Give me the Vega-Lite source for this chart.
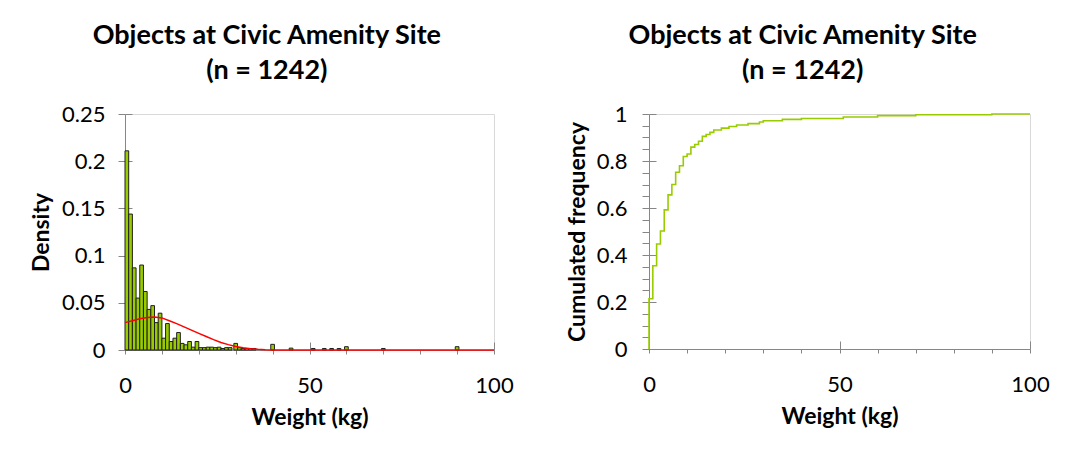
{
  "$schema": "https://vega.github.io/schema/vega-lite/v6.json",
  "background": "white",
  "padding": {"left": 30, "top": 21, "right": 10, "bottom": 5},
  "spacing": 51,
  "config": {
    "font": "Lato",
    "view": {"stroke": "#d9d9d9", "strokeWidth": 1},
    "title": {"font": "Lato", "fontSize": 27, "fontWeight": "bold", "lineHeight": 35, "anchor": "middle", "frame": "bounds", "color": "#000000", "offset": 18, "dx": -5},
    "axis": {"labelFont": "Lato", "labelFontSize": 22, "labelColor": "#000000", "labelFlush": false, "titleFont": "Lato", "titleFontSize": 23, "titleFontWeight": "bold", "titleColor": "#000000", "domainColor": "#868686", "tickColor": "#868686", "grid": false}
  },
  "datasets": {
    "hist": [
      {"start": 0, "end": 1, "density": 0.211},
      {"start": 1, "end": 2, "density": 0.144},
      {"start": 2, "end": 3, "density": 0.087},
      {"start": 3, "end": 4, "density": 0.055},
      {"start": 4, "end": 5, "density": 0.090},
      {"start": 5, "end": 6, "density": 0.062},
      {"start": 6, "end": 7, "density": 0.043},
      {"start": 7, "end": 8, "density": 0.047},
      {"start": 8, "end": 9, "density": 0.029},
      {"start": 9, "end": 10, "density": 0.039},
      {"start": 10, "end": 11, "density": 0.0125},
      {"start": 11, "end": 12, "density": 0.028},
      {"start": 12, "end": 13, "density": 0.009},
      {"start": 13, "end": 14, "density": 0.0125},
      {"start": 14, "end": 15, "density": 0.0185},
      {"start": 15, "end": 16, "density": 0.007},
      {"start": 16, "end": 17, "density": 0.0055},
      {"start": 17, "end": 18, "density": 0.009},
      {"start": 18, "end": 19, "density": 0.003},
      {"start": 19, "end": 20, "density": 0.009},
      {"start": 20, "end": 21, "density": 0.0025},
      {"start": 21, "end": 22, "density": 0.0025},
      {"start": 22, "end": 23, "density": 0.003},
      {"start": 23, "end": 24, "density": 0.003},
      {"start": 24, "end": 25, "density": 0.0025},
      {"start": 25, "end": 26, "density": 0.003},
      {"start": 26, "end": 27, "density": 0.0016},
      {"start": 27, "end": 28, "density": 0.0025},
      {"start": 28, "end": 29, "density": 0.0025},
      {"start": 29.5, "end": 30.5, "density": 0.007},
      {"start": 30.5, "end": 31.5, "density": 0.0025},
      {"start": 31.5, "end": 32.5, "density": 0.0016},
      {"start": 32.5, "end": 33.5, "density": 0.0016},
      {"start": 33.5, "end": 34.5, "density": 0.0016},
      {"start": 34.5, "end": 35.5, "density": 0.0016},
      {"start": 39.5, "end": 40.5, "density": 0.006},
      {"start": 44.5, "end": 45.5, "density": 0.002},
      {"start": 50.5, "end": 51.5, "density": 0.0016},
      {"start": 53.5, "end": 54.5, "density": 0.0016},
      {"start": 55.5, "end": 56.5, "density": 0.0016},
      {"start": 57.5, "end": 58.5, "density": 0.0016},
      {"start": 59.5, "end": 60.5, "density": 0.0035},
      {"start": 69.5, "end": 70.5, "density": 0.0016},
      {"start": 89.5, "end": 90.5, "density": 0.0035}
    ],
    "curve": [
      {"kg": 0, "density": 0.029},
      {"kg": 2, "density": 0.031},
      {"kg": 4, "density": 0.033},
      {"kg": 6, "density": 0.0345},
      {"kg": 8, "density": 0.035},
      {"kg": 10, "density": 0.034},
      {"kg": 12, "density": 0.031},
      {"kg": 14, "density": 0.028},
      {"kg": 16, "density": 0.0245},
      {"kg": 18, "density": 0.021},
      {"kg": 20, "density": 0.0176},
      {"kg": 22, "density": 0.0143},
      {"kg": 24, "density": 0.011},
      {"kg": 26, "density": 0.008},
      {"kg": 28, "density": 0.0057},
      {"kg": 30, "density": 0.0037},
      {"kg": 32, "density": 0.0023},
      {"kg": 34, "density": 0.0013},
      {"kg": 36, "density": 0.0007},
      {"kg": 38, "density": 0.0003},
      {"kg": 40, "density": 0.0001},
      {"kg": 45, "density": 0},
      {"kg": 100, "density": 0}
    ],
    "cdf": [
      {"i": 0, "kg": 0, "freq": 0},
      {"i": 1, "kg": 0, "freq": 0.214},
      {"i": 2, "kg": 1, "freq": 0.354},
      {"i": 3, "kg": 2, "freq": 0.447},
      {"i": 4, "kg": 3, "freq": 0.502},
      {"i": 5, "kg": 4, "freq": 0.592},
      {"i": 6, "kg": 5, "freq": 0.656},
      {"i": 7, "kg": 6, "freq": 0.700},
      {"i": 8, "kg": 7, "freq": 0.752},
      {"i": 9, "kg": 8, "freq": 0.780},
      {"i": 10, "kg": 9, "freq": 0.819},
      {"i": 11, "kg": 10, "freq": 0.830},
      {"i": 12, "kg": 11, "freq": 0.859},
      {"i": 13, "kg": 12, "freq": 0.870},
      {"i": 14, "kg": 13, "freq": 0.884},
      {"i": 15, "kg": 14, "freq": 0.905},
      {"i": 16, "kg": 15, "freq": 0.913},
      {"i": 17, "kg": 16, "freq": 0.922},
      {"i": 18, "kg": 17, "freq": 0.932},
      {"i": 19, "kg": 19, "freq": 0.940},
      {"i": 20, "kg": 21, "freq": 0.947},
      {"i": 21, "kg": 23, "freq": 0.953},
      {"i": 22, "kg": 26, "freq": 0.959},
      {"i": 23, "kg": 29, "freq": 0.966},
      {"i": 24, "kg": 30, "freq": 0.971},
      {"i": 25, "kg": 35, "freq": 0.977},
      {"i": 26, "kg": 40, "freq": 0.981},
      {"i": 27, "kg": 51, "freq": 0.987},
      {"i": 28, "kg": 60, "freq": 0.993},
      {"i": 29, "kg": 70, "freq": 0.997},
      {"i": 30, "kg": 90, "freq": 1.0},
      {"i": 31, "kg": 100, "freq": 1.0}
    ]
  },
  "hconcat": [
    {
      "width": 369,
      "height": 236,
      "title": {"text": ["Objects at Civic Amenity Site", "(n = 1242)"]},
      "resolve": {"axis": {"x": "independent", "y": "independent"}},
      "layer": [
        {
          "data": {"name": "hist"},
          "mark": {"type": "rect", "fill": "#99cc00", "stroke": "#1f1f1f", "strokeWidth": 1},
          "encoding": {
            "x": {"field": "start", "type": "quantitative", "scale": {"domain": [0, 100], "nice": false, "zero": false},
              "axis": {"orient": "bottom", "values": [0, 10, 20, 30, 40, 50, 60, 70, 80, 90, 100], "labelExpr": "datum.value % 50 === 0 ? datum.label : ''", "tickSize": 4, "labelPadding": 21, "title": "Weight (kg)", "titlePadding": 10}},
            "x2": {"field": "end"},
            "y": {"field": "density", "type": "quantitative", "scale": {"domain": [0, 0.25], "nice": false},
              "axis": {"orient": "left", "values": [0, 0.05, 0.1, 0.15, 0.2, 0.25], "format": "~g", "tickSize": 7, "labelPadding": 13, "title": "Density", "titlePadding": 8}},
            "y2": {"datum": 0}
          }
        },
        {
          "data": {"name": "curve"},
          "mark": {"type": "line", "color": "#ff0000", "strokeWidth": 1.5},
          "encoding": {
            "x": {"field": "kg", "type": "quantitative", "scale": {"domain": [0, 100], "nice": false},
              "axis": {"orient": "bottom", "values": [0, 50, 100], "tickSize": -8, "labels": false, "domain": false, "title": null}},
            "y": {"field": "density", "type": "quantitative", "scale": {"domain": [0, 0.25], "nice": false},
              "axis": {"orient": "left", "values": [0, 0.05, 0.1, 0.15, 0.2, 0.25], "tickSize": -7, "labels": false, "domain": false, "title": null}}
          }
        }
      ]
    },
    {
      "width": 381,
      "height": 235,
      "title": {"text": ["Objects at Civic Amenity Site", "(n = 1242)"]},
      "resolve": {"axis": {"x": "independent", "y": "independent"}},
      "layer": [
        {
          "data": {"name": "cdf"},
          "mark": {"type": "line", "color": "#99cc00", "strokeWidth": 1.6, "interpolate": "step-after"},
          "encoding": {
            "x": {"field": "kg", "type": "quantitative", "scale": {"domain": [0, 100], "nice": false},
              "axis": {"orient": "bottom", "values": [0, 10, 20, 30, 40, 50, 60, 70, 80, 90, 100], "labelExpr": "datum.value % 50 === 0 ? datum.label : ''", "tickSize": 4, "labelPadding": 21, "title": "Weight (kg)", "titlePadding": 10}},
            "y": {"field": "freq", "type": "quantitative", "scale": {"domain": [0, 1], "nice": false},
              "axis": {"orient": "left", "values": [0, 0.05, 0.1, 0.15, 0.2, 0.25, 0.3, 0.35, 0.4, 0.45, 0.5, 0.55, 0.6, 0.65, 0.7, 0.75, 0.8, 0.85, 0.9, 0.95, 1], "labelExpr": "abs(datum.value * 5 - round(datum.value * 5)) < 0.000001 ? format(datum.value, '~g') : ''", "tickSize": 7, "labelPadding": 15, "title": "Cumulated frequency", "titlePadding": 7}},
            "order": {"field": "i", "type": "quantitative"}
          }
        },
        {
          "data": {"name": "cdf"},
          "mark": {"type": "line", "opacity": 0, "interpolate": "step-after"},
          "encoding": {
            "x": {"field": "kg", "type": "quantitative", "scale": {"domain": [0, 100], "nice": false},
              "axis": {"orient": "bottom", "values": [0, 50, 100], "tickSize": -8, "labels": false, "domain": false, "title": null}},
            "y": {"field": "freq", "type": "quantitative", "scale": {"domain": [0, 1], "nice": false},
              "axis": {"orient": "left", "values": [0, 0.2, 0.4, 0.6, 0.8, 1], "tickSize": -7, "labels": false, "domain": false, "title": null}},
            "order": {"field": "i", "type": "quantitative"}
          }
        }
      ]
    }
  ]
}
